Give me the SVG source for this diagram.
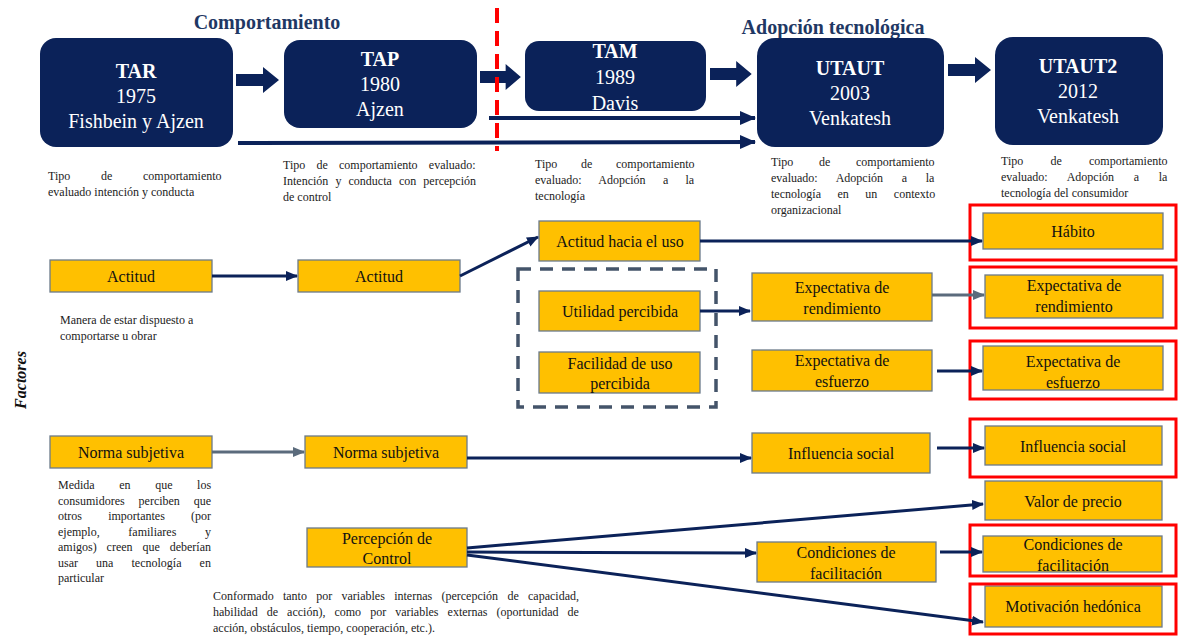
<svg xmlns="http://www.w3.org/2000/svg" width="1186" height="636" viewBox="0 0 1186 636">
  <style>
    .model { fill: #0B2259; }
    .mt { font-family: "Liberation Serif", "Times New Roman", serif; fill: #ffffff; font-size: 20px; text-anchor: middle; }
    .head { font-family: "Liberation Serif", "Times New Roman", serif; font-weight: bold; font-size: 20px; fill: #1F3864; text-anchor: middle; }
    .desc { font-family: "Liberation Serif", "Times New Roman", serif; font-size: 12px; fill: #222222; }
    .fac { fill: #FFC000; stroke: #6B7A8A; stroke-width: 1.3; }
    .ft { font-family: "Liberation Serif", "Times New Roman", serif; font-size: 16px; fill: #111111; text-anchor: middle; }
    .hl { fill: none; stroke: #FF0000; stroke-width: 3; }
    .link { fill: none; stroke: #0B2259; stroke-width: 3; marker-end: url(#ah); }
    .link-g { fill: none; stroke: #5B6B7C; stroke-width: 3; marker-end: url(#ahg); }
    .long { fill: none; stroke: #0B2259; stroke-width: 4; marker-end: url(#ahl); }
  </style>
  <defs>
    <marker id="ah" markerUnits="userSpaceOnUse" markerWidth="12" markerHeight="12" viewBox="0 0 12 12" refX="11" refY="6" orient="auto">
      <path d="M0,1 L12,6 L0,11 Z" fill="#0B2259"/>
    </marker>
    <marker id="ahg" markerUnits="userSpaceOnUse" markerWidth="12" markerHeight="12" viewBox="0 0 12 12" refX="11" refY="6" orient="auto">
      <path d="M0,1 L12,6 L0,11 Z" fill="#5B6B7C"/>
    </marker>
    <marker id="ahl" markerUnits="userSpaceOnUse" markerWidth="16" markerHeight="16" viewBox="0 0 16 16" refX="15" refY="8" orient="auto">
      <path d="M0,1 L16,8 L0,15 Z" fill="#0B2259"/>
    </marker>
    <!-- block arrow between model boxes -->
    <path id="blk" d="M0,-6 H27 V-13 L43,0 L27,13 V6 H0 Z" fill="#0B2259"/>
  </defs>

  <rect width="1186" height="636" fill="#ffffff"/>

  <!-- section headings -->
  <text class="head" x="267" y="29">Comportamiento</text>
  <text class="head" x="833" y="34">Adopción tecnológica</text>

  <!-- model nodes -->
  <g id="tar">
    <rect class="model" x="40" y="38" width="193" height="109" rx="16"/>
    <text class="mt" x="136" y="78"><tspan font-weight="bold">TAR</tspan><tspan x="136" y="103">1975</tspan><tspan x="136" y="128">Fishbein  y Ajzen</tspan></text>
  </g>
  <g id="tap">
    <rect class="model" x="284" y="40" width="193" height="88" rx="16"/>
    <text class="mt" x="380" y="66"><tspan font-weight="bold">TAP</tspan><tspan x="380" y="91">1980</tspan><tspan x="380" y="116">Ajzen</tspan></text>
  </g>
  <g id="tam">
    <rect class="model" x="525" y="41" width="181" height="70" rx="14"/>
    <text class="mt" x="615" y="58"><tspan font-weight="bold">TAM</tspan><tspan x="615" y="84">1989</tspan><tspan x="615" y="110">Davis</tspan></text>
  </g>
  <g id="utaut">
    <rect class="model" x="757" y="38" width="187" height="109" rx="18"/>
    <text class="mt" x="850" y="75"><tspan font-weight="bold">UTAUT</tspan><tspan x="850" y="100">2003</tspan><tspan x="850" y="125">Venkatesh</tspan></text>
  </g>
  <g id="utaut2">
    <rect class="model" x="995" y="37" width="168" height="108" rx="18"/>
    <text class="mt" x="1078" y="73"><tspan font-weight="bold">UTAUT2</tspan><tspan x="1078" y="98">2012</tspan><tspan x="1078" y="123">Venkatesh</tspan></text>
  </g>

  <!-- model descriptions (justified via word-spacing) -->
  <g id="desc-models" class="desc">
    <text x="48" y="180" word-spacing="27.7">Tipo de comportamiento</text>
    <text x="48" y="196">evaluado intención y conducta</text>

    <text x="283" y="169" word-spacing="8.2">Tipo de comportamiento evaluado:</text>
    <text x="283" y="185" word-spacing="4.1">Intención y conducta con percepción</text>
    <text x="283" y="201">de control</text>

    <text x="535" y="168" word-spacing="20.7">Tipo de comportamiento</text>
    <text x="535" y="184" word-spacing="14.3">evaluado: Adopción a la</text>
    <text x="535" y="200">tecnología</text>

    <text x="771" y="166" word-spacing="22.7">Tipo de comportamiento</text>
    <text x="771" y="182" word-spacing="15.7">evaluado: Adopción a la</text>
    <text x="771" y="198" word-spacing="13.5">tecnología en un contexto</text>
    <text x="771" y="214">organizacional</text>

    <text x="1001" y="165" word-spacing="24.2">Tipo de comportamiento</text>
    <text x="1001" y="181" word-spacing="16.7">evaluado: Adopción a la</text>
    <text x="1001" y="197">tecnología del consumidor</text>
  </g>

  <!-- side label -->
  <text x="0" y="0" transform="translate(26,380) rotate(-90)" font-family="'Liberation Serif', 'Times New Roman', serif" font-size="16" font-weight="bold" font-style="italic" fill="#111111" text-anchor="middle">Factores</text>

  <!-- grouping of TAM perceptions -->
  <rect x="518" y="269" width="198" height="138" fill="none" stroke="#44546A" stroke-width="3.5" stroke-dasharray="13,9"/>

  <!-- factor nodes -->
  <g id="actitud-tar"><rect class="fac" x="50" y="260" width="162" height="32"/><text class="ft" x="131" y="282">Actitud</text></g>
  <g id="actitud-tap"><rect class="fac" x="298" y="260" width="162" height="32"/><text class="ft" x="379" y="282">Actitud</text></g>
  <g id="actitud-uso"><rect class="fac" x="539" y="221" width="161" height="40"/><text class="ft" x="620" y="247">Actitud hacia el uso</text></g>
  <g id="utilidad"><rect class="fac" x="539" y="291" width="161" height="40"/><text class="ft" x="620" y="317">Utilidad percibida</text></g>
  <g id="facilidad"><rect class="fac" x="539" y="352" width="161" height="41"/><text class="ft" x="620" y="369">Facilidad de uso<tspan x="620" y="389">percibida</tspan></text></g>
  <g id="exp-rend"><rect class="fac" x="752" y="273" width="180" height="48"/><text class="ft" x="842" y="293">Expectativa de<tspan x="842" y="314">rendimiento</tspan></text></g>
  <g id="exp-esf"><rect class="fac" x="752" y="350" width="180" height="41"/><text class="ft" x="842" y="366">Expectativa de<tspan x="842" y="387">esfuerzo</tspan></text></g>
  <g id="norma-tar"><rect class="fac" x="50" y="436" width="162" height="32"/><text class="ft" x="131" y="458">Norma subjetiva</text></g>
  <g id="norma-tap"><rect class="fac" x="305" y="436" width="162" height="32"/><text class="ft" x="386" y="458">Norma subjetiva</text></g>
  <g id="influencia"><rect class="fac" x="752" y="433" width="178" height="40"/><text class="ft" x="841" y="459">Influencia social</text></g>
  <g id="percepcion"><rect class="fac" x="307" y="528" width="160" height="39"/><text class="ft" x="387" y="544">Percepción de<tspan x="387" y="564">Control</tspan></text></g>
  <g id="condiciones"><rect class="fac" x="757" y="542" width="179" height="40"/><text class="ft" x="846" y="558">Condiciones de<tspan x="846" y="579">facilitación</tspan></text></g>

  <!-- UTAUT2 factor nodes -->
  <g id="habito"><rect class="fac" x="983" y="213" width="180" height="36"/><text class="ft" x="1073" y="237">Hábito</text><rect class="hl" x="970" y="205" width="206" height="55"/></g>
  <g id="exp-rend2"><rect class="fac" x="985" y="275" width="178" height="43"/><text class="ft" x="1074" y="291">Expectativa de<tspan x="1074" y="312">rendimiento</tspan></text><rect class="hl" x="970" y="267" width="206" height="61"/></g>
  <g id="exp-esf2"><rect class="fac" x="983" y="346" width="180" height="44"/><text class="ft" x="1073" y="367">Expectativa de<tspan x="1073" y="388">esfuerzo</tspan></text><rect class="hl" x="970" y="341" width="206" height="58"/></g>
  <g id="influencia2"><rect class="fac" x="985" y="426" width="177" height="39"/><text class="ft" x="1073" y="452">Influencia social</text><rect class="hl" x="970" y="419" width="206" height="58"/></g>
  <g id="precio"><rect class="fac" x="985" y="481" width="177" height="39"/><text class="ft" x="1073" y="507">Valor de precio</text></g>
  <g id="condiciones2"><rect class="fac" x="983" y="536" width="179" height="36"/><text class="ft" x="1073" y="550">Condiciones de<tspan x="1073" y="571">facilitación</tspan></text><rect class="hl" x="970" y="525" width="206" height="51"/></g>
  <g id="hedonica"><rect class="fac" x="985" y="586" width="177" height="41"/><text class="ft" x="1073" y="612">Motivación hedónica</text><rect class="hl" x="970" y="584" width="206" height="50"/></g>

  <!-- factor descriptions -->
  <g id="desc-factors" class="desc">
    <text x="60" y="324">Manera de estar dispuesto a</text>
    <text x="60" y="340">comportarse u obrar</text>

    <text x="58" y="489" word-spacing="21.6">Medida en que los</text>
    <text x="58" y="505" word-spacing="10.9">consumidores perciben que</text>
    <text x="58" y="520" word-spacing="23.2">otros importantes (por</text>
    <text x="58" y="536" word-spacing="25.7">ejemplo, familiares y</text>
    <text x="58" y="551" word-spacing="6.9">amigos) creen que deberían</text>
    <text x="58" y="567" word-spacing="15.1">usar una tecnología en</text>
    <text x="58" y="582">particular</text>

    <text x="213" y="600" word-spacing="6.3">Conformado tanto por variables internas (percepción de capacidad,</text>
    <text x="213" y="616" word-spacing="6.05">habilidad de acción), como por variables externas (oportunidad de</text>
    <text x="213" y="632">acción, obstáculos, tiempo, cooperación, etc.).</text>
  </g>

  <!-- connectors -->
  <g id="connectors">
    <use href="#blk" transform="translate(236,80)"/>
    <use href="#blk" transform="translate(480,77) scale(0.95,1)"/>
    <use href="#blk" transform="translate(710,74) scale(0.97,1)"/>
    <use href="#blk" transform="translate(948,70)"/>
    <line class="long" x1="489" y1="118" x2="755" y2="118"/>
    <line class="long" x1="238" y1="143" x2="755" y2="142"/>

    <line class="link" x1="212" y1="276" x2="297" y2="276"/>
    <line class="link" x1="460" y1="276" x2="538" y2="237"/>
    <line class="link" x1="700" y1="241" x2="982" y2="241"/>
    <line class="link" x1="700" y1="311" x2="750" y2="311"/>
    <line class="link-g" x1="932" y1="295" x2="984" y2="295"/>
    <line class="link" x1="937" y1="371" x2="982" y2="371"/>
    <line class="link-g" x1="212" y1="452" x2="304" y2="452"/>
    <line class="link" x1="467" y1="458" x2="751" y2="458"/>
    <line class="link" x1="937" y1="448" x2="984" y2="448"/>
    <line class="link" x1="467" y1="548" x2="983" y2="504"/>
    <line class="link" x1="467" y1="552" x2="756" y2="553"/>
    <line class="link" x1="940" y1="552" x2="982" y2="552"/>
    <line class="link" x1="467" y1="555" x2="983" y2="622"/>
  </g>

  <!-- boundary between the two research lines -->
  <line x1="497" y1="8" x2="497" y2="151" stroke="#FF0000" stroke-width="4" stroke-dasharray="15,8"/>
</svg>
